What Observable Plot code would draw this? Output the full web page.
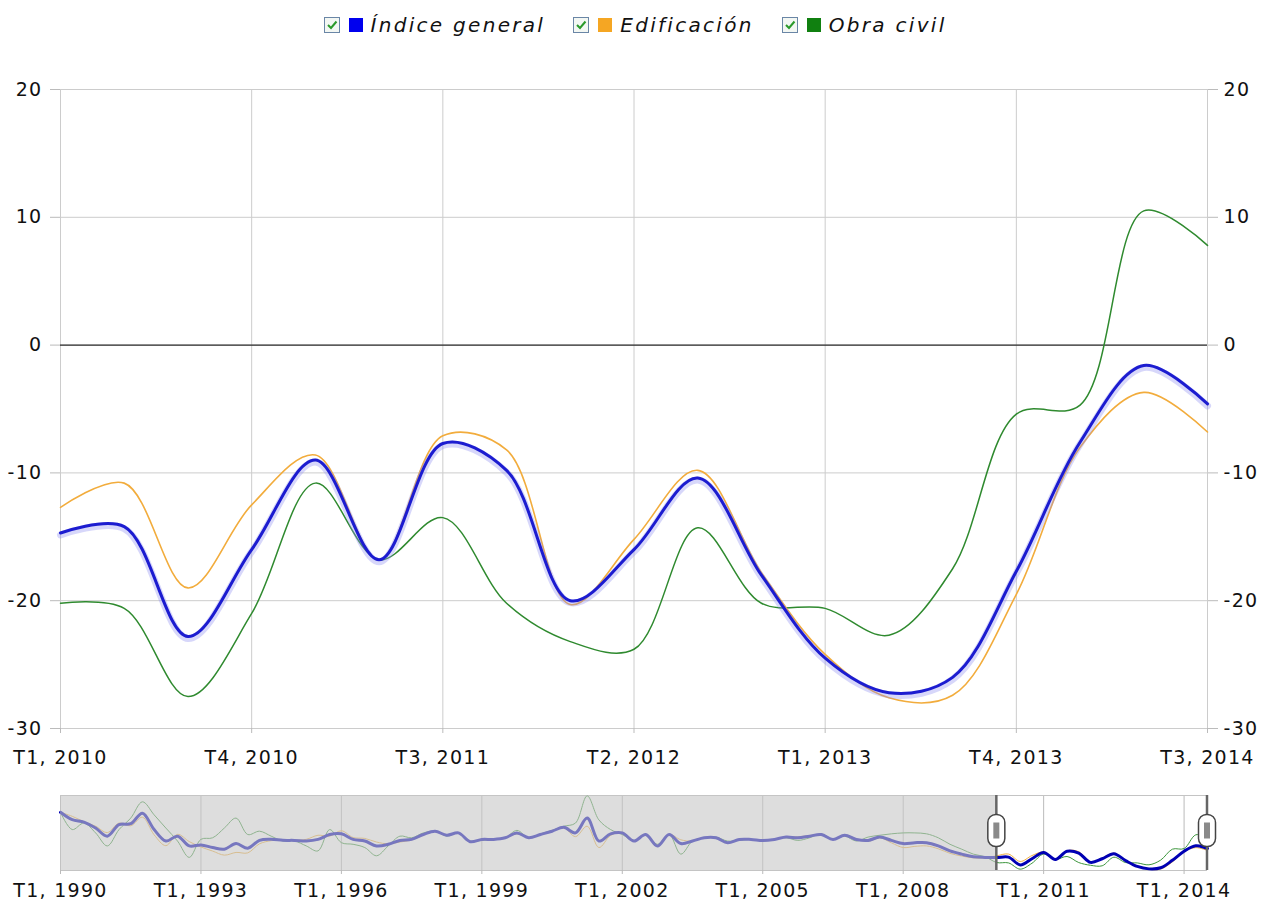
<!DOCTYPE html>
<html>
<head>
<meta charset="utf-8">
<script src="https://cdn.jsdelivr.net/npm/d3@7"></script>
<script src="https://cdn.jsdelivr.net/npm/@observablehq/plot@0.6"></script>
<style>
  body { margin: 0; background: #fff; font-family: "DejaVu Sans", Verdana, sans-serif; }
  #legend { position: absolute; left: 0; top: 0; width: 1270px; height: 50px;
            display: flex; justify-content: center; align-items: center; }
  .item { display: flex; align-items: center; margin: 0 14px; }
  .cb { width: 16px; height: 16px; margin-right: 9px; }
  .sw { width: 14px; height: 14px; display: inline-block; margin-right: 8px; }
  .lab { font-style: italic; font-size: 20px; letter-spacing: 2.3px; color: #111; }
  #main { position: absolute; left: 0; top: 50px; }
  #nav { position: absolute; left: 0; top: 778px; }
  svg text { letter-spacing: 1.3px; }
</style>
</head>
<body>
<div id="legend"></div>
<div id="main"></div>
<div id="nav"></div>
<script>
// Series: quarterly values from T1 1990 to T3 2014 (99 quarters)
const seriesNames = ["Índice general", "Edificación", "Obra civil"];
const seriesColors = ["#0000ee", "#f5a623", "#108010"];

const indiceGeneral = [
  35.4, 27.2, 24.6, 18, 9, 21.7, 22.8, 34.4, 16.3, 3.6, 9, -1.8, -0.7, -3.6, -5.4, 0.8, -4.3, 4.4, 5.5, 4.4,
  4.3, 3.6, 5.4, 10.8, 11.6, 5.4, 3.6, -1.8, 0, 4.3, 5.4, 10.8, 14.5, 10, 12.6, 2.9, 5.4, 5.4, 7.2, 12.6,
  7.2, 10.8, 14.5, 18.8, 12.6, 29, 3.6, 11.6, 12.6, 3.6, 10.8, -1.8, 10.8, 0.8, 3.6, 7.2, 7.2, 1.8, 5.4, 5.4,
  4.3, 5.4, 8, 7.2, 9, 10.8, 5.4, 10, 5.4, 4.3, 8, 4.3, 0.8, 1.8, 1.8, -1.8, -7.3, -10.9, -13.8, -14.5,
  -14.7, -14.2, -22.8, -16, -9, -16.8, -7.7, -9.8, -20, -16, -10.4, -18, -24.5, -27.2, -26, -17.7, -7.6, -1.6, -4.6
];
const edificacion = [
  35.4, 31, 25, 20, 13, 23.5, 20.5, 30, 10.5, -1.5, 11, 3, -3, -7.5, -12, -9, -9.5, 0.5, 4, 4.7,
  4.5, 5.5, 10, 9, 15, 7.5, 6.5, 2.5, 0.5, 2.5, 4.8, 10.2, 14.5, 10.4, 12.6, 2.6, 5.8, 5.4, 7.2, 11.5,
  7.2, 10.5, 14.2, 18.3, 8.5, 20, -3.6, 9.8, 13.3, 3.6, 10.8, -2.5, 10.8, 5, 3.6, 7.2, 7, 1.2, 5.8, 5.4,
  4.6, 5.4, 8.3, 8.3, 9.7, 10.5, 5.4, 10.4, 6, 3.2, 7.2, 1.6, -3.6, -2.3, -1.8, -5, -10, -13, -15, -15,
  -12.7, -10.8, -19, -12.5, -8.6, -16.8, -7.1, -8.2, -20.3, -15.2, -9.8, -17.8, -24.2, -27.6, -27.4, -19.5, -8, -3.7, -6.8
];
const obraCivil = [
  35.4, 16.3, 23.5, 12.6, -1.8, 16.3, 29, 47, 32.6, 18, 3.6, -14.5, 5.5, 7.2, 18, 29, 10.8, 14.5, 9, 3.6,
  3.6, -1.8, -7.3, 16.3, 1.8, 0, -3.6, -12.7, -1.8, 9, 7.2, 12.6, 14.5, 9, 12.6, 3.6, 4.3, 5.4, 7.2, 15.4,
  7.2, 11.6, 15.4, 20, 23.5, 53.6, 27, 16.3, 10.8, 3.6, 10.8, 0, 10.8, -10.9, 3.6, 7.2, 8, 3.6, 4.3, 5.4,
  3.6, 5.4, 7.2, 4.3, 7.2, 11.6, 5.4, 9, 3.6, 8, 10, 11.6, 12.6, 12.6, 11.6, 7.2, 0, -5.4, -10.9, -13.8,
  -20.2, -20.6, -27.5, -21, -10.8, -16.8, -13.5, -20.2, -23.2, -23.8, -14.3, -20.2, -20.6, -22.7, -17.5, -5.4, -4.7, 10.5, 7.8
];

// Tick labels
const mainTickValues = [2010, 2010.75, 2011.5, 2012.25, 2013, 2013.75, 2014.5];
const mainTickLabels = ["T1, 2010", "T4, 2010", "T3, 2011", "T2, 2012", "T1, 2013", "T4, 2013", "T3, 2014"];
const navTickValues = [1990, 1993, 1996, 1999, 2002, 2005, 2008, 2011, 2014];
const navTickLabels = ["T1, 1990", "T1, 1993", "T1, 1996", "T1, 1999", "T1, 2002", "T1, 2005", "T1, 2008", "T1, 2011", "T1, 2014"];
const yTicks = [-30, -20, -10, 0, 10, 20];

const startYear = 1990;
const rows = indiceGeneral.map((g, i) => ({ t: startYear + i / 4, gen: g, edif: edificacion[i], oc: obraCivil[i] }));
const mainRows = rows.filter(d => d.t >= 2010);

// Legend
const legend = document.getElementById("legend");
seriesNames.forEach((name, i) => {
  const it = document.createElement("span");
  it.className = "item";
  it.innerHTML = `<svg class="cb" viewBox="0 0 16 16"><rect x="0.5" y="0.5" width="15" height="15" fill="#f3f7f3" stroke="#6a86a6"/><polyline points="4,8 7,11 12.5,4.5" fill="none" stroke="#2a9a2a" stroke-width="2"/></svg><span class="sw" style="background:${seriesColors[i]}"></span><span class="lab">${name}</span>`;
  legend.appendChild(it);
});

const mainLabel = new Map(mainTickValues.map((v, i) => [v, mainTickLabels[i]]));
const navLabel = new Map(navTickValues.map((v, i) => [v, navTickLabels[i]]));
const font = { fontFamily: "DejaVu Sans, Verdana, sans-serif", fontSize: "19px", color: "#111", background: "transparent" };

const main = Plot.plot({
  width: 1270, height: 728,
  marginTop: 39, marginBottom: 50, marginLeft: 60, marginRight: 63,
  style: font,
  x: { domain: [2010, 2014.5] },
  y: { domain: [-30, 20] },
  marks: [
    Plot.gridY(yTicks, { stroke: "#cccccc", strokeOpacity: 1 }),
    Plot.gridX(mainTickValues, { stroke: "#cccccc", strokeOpacity: 1 }),
    Plot.ruleY([0], { stroke: "#000" }),
    Plot.axisY({ anchor: "left", ticks: yTicks, tickSize: 10, tickPadding: 8, tickFormat: d => String(d), label: null, stroke: "#bbb" }),
    Plot.axisY({ anchor: "right", ticks: yTicks, tickSize: 10, tickPadding: 6, tickFormat: d => String(d), label: null, stroke: "#bbb" }),
    Plot.axisX({ ticks: mainTickValues, tickSize: 5, tickPadding: 17, tickFormat: d => mainLabel.get(d), label: null, stroke: "#bbb" }),
    Plot.line(mainRows, { x: "t", y: "oc", stroke: "#2f8a2f", strokeWidth: 1.5, curve: "catmull-rom" }),
    Plot.line(mainRows, { x: "t", y: "edif", stroke: "#f2ac3c", strokeWidth: 1.6, curve: "catmull-rom" }),
    Plot.line(mainRows, { x: "t", y: "gen", stroke: "#8c8cf0", strokeOpacity: 0.35, strokeWidth: 7, dy: 2, curve: "catmull-rom" }),
    Plot.line(mainRows, { x: "t", y: "gen", stroke: "#1c1cd0", strokeWidth: 3, curve: "catmull-rom" })
  ]
});
document.getElementById("main").appendChild(main);

const nav = Plot.plot({
  width: 1270, height: 135,
  marginTop: 17, marginBottom: 43, marginLeft: 60, marginRight: 63,
  style: font,
  x: { domain: [1990, 2014.5] },
  y: { domain: [-29, 54], axis: null },
  marks: [
    Plot.gridX(navTickValues, { stroke: "#bbbbbb", strokeOpacity: 1 }),
    Plot.ruleY([-29, 54], { stroke: "#c4c4c4" }),
    Plot.line(rows, { x: "t", y: "oc", stroke: "#3c963c", strokeWidth: 1, curve: "catmull-rom" }),
    Plot.line(rows, { x: "t", y: "edif", stroke: "#f0b040", strokeWidth: 1, curve: "catmull-rom" }),
    Plot.line(rows, { x: "t", y: "gen", stroke: "#0000b4", strokeWidth: 3, curve: "catmull-rom" }),
    Plot.rect([{ x1: 1990, x2: 2010 }], { x1: "x1", x2: "x2", y1: -29, y2: 54, fill: "#c6c6c6", fillOpacity: 0.6 }),
    Plot.axisX({ ticks: navTickValues, tickSize: 4, tickPadding: 9, tickFormat: d => navLabel.get(d), label: null, stroke: "#bbb" })
  ]
});
document.getElementById("nav").appendChild(nav);

// Navigator selection handles at the main chart's range ends
const sx = nav.scale("x");
const sy = nav.scale("y");
const yTop = sy.apply(54), yBot = sy.apply(-29), yMid = (yTop + yBot) / 2 - 2;
const g = d3.select(nav).append("g");
[2010, 2014.5].forEach(v => {
  const x = sx.apply(v);
  g.append("line").attr("x1", x).attr("x2", x).attr("y1", yTop).attr("y2", yBot)
    .attr("stroke", "#666").attr("stroke-width", 2.5);
  g.append("rect").attr("x", x - 8.5).attr("y", yMid - 16).attr("width", 17).attr("height", 32)
    .attr("rx", 8).attr("fill", "#fff").attr("stroke", "#444").attr("stroke-width", 1.5);
  g.append("rect").attr("x", x - 3).attr("y", yMid - 8).attr("width", 6).attr("height", 16)
    .attr("fill", "#8a8a8a");
});
</script>
</body>
</html>
